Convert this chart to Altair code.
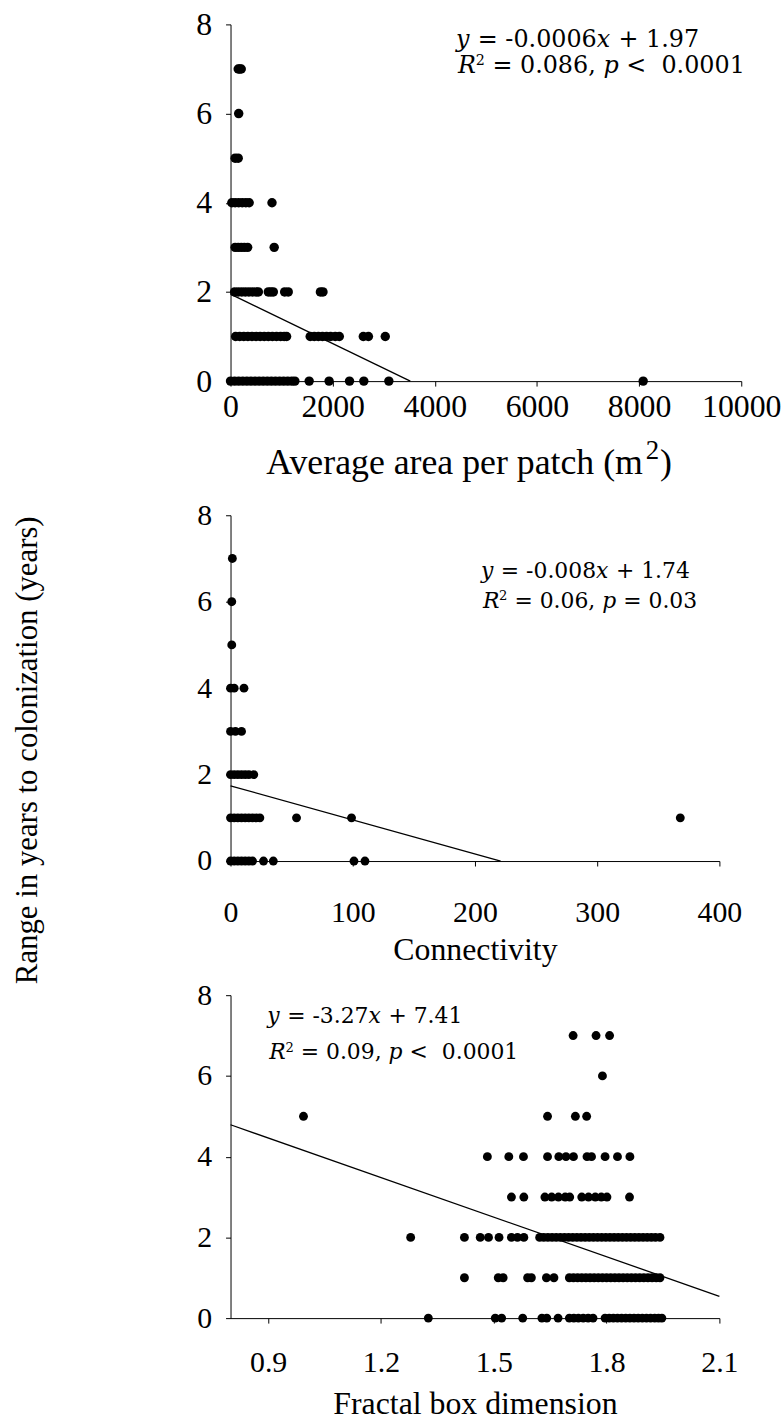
import altair as alt
import pandas as pd

# ---------------- Panel 1: average area per patch (m2) ----------------
area_y7 = [150, 180, 210]
area_y6 = [160]
area_y5 = [90, 150]
area_y4 = [25, 90, 160, 230, 300, 365, 812]
area_y3 = [90, 150, 210, 270, 335, 855]
area_y2 = [80, 150, 220, 290, 360, 430, 500, 545, 740, 790, 838, 1060, 1130, 1760, 1810]
area_y1 = [100, 180, 260, 340, 420, 500, 580, 660, 740, 820, 900, 980, 1050, 1098,
           1560, 1640, 1720, 1800, 1880, 1960, 2050, 2130, 2600, 2700, 3030]
area_y0 = [0, 80, 160, 240, 320, 400, 480, 560, 640, 720, 800, 880, 960, 1040, 1120,
           1200, 1260, 1540, 1930, 2330, 2610, 3100, 8080]
area_fit_x = [0, 3520]
area_fit_y = [1.95, 0]
area_ticks = [0, 2000, 4000, 6000, 8000, 10000]

# ---------------- Panel 2: connectivity ----------------
conn_y7 = [1.5]
conn_y6 = [1]
conn_y5 = [1]
conn_y4 = [0, 3, 11]
conn_y3 = [0, 4, 9]
conn_y2 = [0, 3, 6, 9, 12, 15, 19]
conn_y1 = [0, 3, 6, 9, 12, 15, 18, 21, 24, 54, 99, 368]
conn_y0 = [0, 3, 6, 9, 12, 15, 18, 27, 35, 101, 110]
conn_fit_x = [0, 221]
conn_fit_y = [1.74, 0]
conn_ticks = [0, 100, 200, 300, 400]

# ---------------- Panel 3: fractal box dimension ----------------
fbd_y7 = [1.711, 1.772, 1.808]
fbd_y6 = [1.789]
fbd_y5 = [0.994, 1.643, 1.717, 1.747]
fbd_y4 = [1.483, 1.540, 1.579, 1.643, 1.673, 1.692, 1.712, 1.748, 1.760, 1.796, 1.829, 1.862]
fbd_y3 = [1.547, 1.580, 1.636, 1.654, 1.672, 1.690, 1.702, 1.734, 1.752, 1.770, 1.786,
          1.801, 1.861]
fbd_y2 = [1.279, 1.422, 1.464, 1.486, 1.514, 1.547, 1.563, 1.580, 1.622, 1.633, 1.644,
          1.655, 1.666, 1.677, 1.688, 1.699, 1.710, 1.721, 1.732, 1.743, 1.754, 1.765,
          1.776, 1.787, 1.798, 1.809, 1.820, 1.831, 1.842, 1.853, 1.864, 1.875, 1.886,
          1.897, 1.908, 1.919, 1.930, 1.942]
fbd_y1 = [1.422, 1.512, 1.525, 1.590, 1.600, 1.640, 1.660, 1.701, 1.712, 1.723, 1.734,
          1.745, 1.756, 1.767, 1.778, 1.789, 1.800, 1.811, 1.822, 1.833, 1.844, 1.855,
          1.866, 1.877, 1.888, 1.899, 1.910, 1.921, 1.932, 1.942]
fbd_y0 = [1.326, 1.504, 1.521, 1.577, 1.628, 1.641, 1.671, 1.701, 1.713, 1.725, 1.738,
          1.751, 1.764, 1.796, 1.807, 1.818, 1.829, 1.840, 1.851, 1.862, 1.873, 1.884,
          1.895, 1.906, 1.917, 1.928, 1.938, 1.947]
fbd_fit_x = [0.8, 2.1]
fbd_fit_y = [4.79, 0.54]
fbd_ticks = [0.9, 1.2, 1.5, 1.8, 2.1]

y_ticks = [0, 2, 4, 6, 8]

# annotation text (segments: text, kind)
ann_area = [
    [("y", "it"), (" = -0.0006", "rg"), ("x", "it"), (" + 1.97", "rg")],
    [("R", "it"), ("2", "sup"), (" = 0.086, ", "rg"), ("p", "it"), (" <  0.0001", "rg")],
]
ann_conn = [
    [("y", "it"), (" = -0.008", "rg"), ("x", "it"), (" + 1.74", "rg")],
    [("R", "it"), ("2", "sup"), (" = 0.06, ", "rg"), ("p", "it"), (" = 0.03", "rg")],
]
ann_fbd = [
    [("y", "it"), (" = -3.27", "rg"), ("x", "it"), (" + 7.41", "rg")],
    [("R", "it"), ("2", "sup"), (" = 0.09, ", "rg"), ("p", "it"), (" <  0.0001", "rg")],
]
area_title_parts = ["Average area per patch (m", "2", ")"]

SERIF = "Liberation Serif"
ANN_FONT = "DejaVu Serif"


def rows_df(rows):
    recs = []
    for yv, xs in rows:
        for xv in xs:
            recs.append({"x": xv, "y": yv})
    return pd.DataFrame(recs)


REG_W = {" ": 0.318, ".": 0.318, ",": 0.318, "-": 0.338, "=": 0.838, "+": 0.838, "<": 0.838}
IT_W = {"y": 0.592, "x": 0.592, "p": 0.642, "R": 0.74}
TIMES_W = {"A": 0.722, "v": 0.5, "e": 0.444, "r": 0.333, "a": 0.444, "g": 0.5, " ": 0.25,
           "p": 0.5, "t": 0.278, "c": 0.444, "h": 0.5, "(": 0.333, "m": 0.778, "2": 0.5,
           ")": 0.333}


def char_w(ch, kind):
    if kind == "it":
        return IT_W.get(ch, 0.6)
    if ch.isdigit():
        return 0.636
    return REG_W.get(ch, 0.6)


ONE = pd.DataFrame({"a": [0]})


def text_mark(txt, x, y, size, style, font=ANN_FONT):
    return alt.Chart(ONE).mark_text(
        align="left", baseline="alphabetic", font=font, fontSize=size,
        fontStyle=style, color="black"
    ).encode(x=alt.value(x), y=alt.value(y), text=alt.value(txt))


def annotation(lines, x0s, baselines, fs):
    marks = []
    for segs, x0, y0 in zip(lines, x0s, baselines):
        x = x0
        for txt, kind in segs:
            size = round(fs * 0.6, 1) if kind == "sup" else fs
            style = "italic" if kind == "it" else "normal"
            dy = -0.33 * fs if kind == "sup" else 0
            run, run_x = "", x
            for ch in txt:
                w = char_w(ch, kind) * size
                if ch == " ":
                    if run:
                        marks.append(text_mark(run, run_x, y0 + dy, size, style))
                        run = ""
                    x += w
                else:
                    if not run:
                        run_x = x
                    run += ch
                    x += w
            if run:
                marks.append(text_mark(run, run_x, y0 + dy, size, style))
    return marks


def area_title(x0, y0, fs):
    main, sup, close = area_title_parts
    w_main = sum(TIMES_W.get(c, 0.5) for c in main) * fs
    sup_fs = round(fs * 0.75, 1)
    w_sup = TIMES_W["2"] * sup_fs
    return [
        text_mark(main, x0, y0, fs, "normal", SERIF),
        text_mark(sup, x0 + w_main, y0 - 0.4 * fs, sup_fs, "normal", SERIF),
        text_mark(close, x0 + w_main + w_sup + 1, y0, fs, "normal", SERIF),
    ]


def make_panel(df, fit_df, domain, ticks, fmt, w, h, xtitle, label_fs, title_fs,
               xlab_pad, title_y, extra, dot_size, ytitle=None):
    xs = alt.Scale(domain=domain, nice=False, zero=False)
    ys = alt.Scale(domain=[0, 8], nice=False)
    x_kw = dict(
        values=ticks, format=fmt, grid=False,
        domainColor="black", domainWidth=1, tickColor="black", tickSize=5, tickWidth=1,
        labelFont=SERIF, labelFontSize=label_fs, labelColor="black",
        labelPadding=xlab_pad, labelOverlap=False, labelFlush=False,
    )
    if xtitle is None:
        x_kw["title"] = None
    else:
        x_kw.update(dict(title=xtitle, titleFont=SERIF, titleFontSize=title_fs,
                         titleFontWeight="normal", titleColor="black", titleY=title_y,
                         titleBaseline="alphabetic"))
    y_kw = dict(
        values=y_ticks, format="d", grid=False,
        domainColor="black", domainWidth=1, tickColor="black", tickSize=5, tickWidth=1,
        labelFont=SERIF, labelFontSize=label_fs, labelColor="black", labelPadding=14,
        labelFlush=False, labelOverlap=False,
    )
    if ytitle is None:
        y_kw["title"] = None
    else:
        y_kw.update(ytitle)
    pts = alt.Chart(df).mark_circle(size=dot_size, color="black", opacity=1).encode(
        x=alt.X("x:Q", scale=xs, axis=alt.Axis(**x_kw)),
        y=alt.Y("y:Q", scale=ys, axis=alt.Axis(**y_kw)),
    )
    line = alt.Chart(fit_df).mark_line(color="black", strokeWidth=1.3).encode(
        x=alt.X("x:Q", scale=xs), y=alt.Y("y:Q", scale=ys)
    )
    return alt.layer(pts, line, *extra).properties(width=w, height=h)


df1 = rows_df([(7, area_y7), (6, area_y6), (5, area_y5), (4, area_y4), (3, area_y3),
               (2, area_y2), (1, area_y1), (0, area_y0)])
df2 = rows_df([(7, conn_y7), (6, conn_y6), (5, conn_y5), (4, conn_y4), (3, conn_y3),
               (2, conn_y2), (1, conn_y1), (0, conn_y0)])
df3 = rows_df([(7, fbd_y7), (6, fbd_y6), (5, fbd_y5), (4, fbd_y4), (3, fbd_y3),
               (2, fbd_y2), (1, fbd_y1), (0, fbd_y0)])
fit1 = pd.DataFrame({"x": area_fit_x, "y": area_fit_y})
fit2 = pd.DataFrame({"x": conn_fit_x, "y": conn_fit_y})
fit3 = pd.DataFrame({"x": fbd_fit_x, "y": fbd_fit_y})

H1, H2, H3 = 359, 348, 325

p1 = make_panel(df1, fit1, [0, 10000], area_ticks, "d", 514, H1,
                None, 32, 36, 6, 0,
                annotation(ann_area, [227, 229], [23, 49], 24)
                + area_title(36, H1 + 93, 36), 90)
p2 = make_panel(df2, fit2, [0, 400], conn_ticks, "d", 492, H2,
                "Connectivity", 30, 32, 32, 99,
                annotation(ann_conn, [252, 254], [63, 93], 22), 80,
                ytitle=dict(title="Range in years to colonization (years)",
                            titleFont=SERIF, titleFontSize=31, titleFontWeight="normal",
                            titleColor="black", titleAngle=270, titleX=-195, titleY=236,
                            titleBaseline="alphabetic", titleAlign="center"))
p3 = make_panel(df3, fit3, [0.8, 2.1], fbd_ticks, ".1f", 492, H3,
                "Fractal box dimension", 30, 32, 25, 96,
                annotation(ann_fbd, [37, 39], [28, 64], 22), 80)

chart = alt.vconcat(p1, p2, p3, spacing=135, bounds="flush").properties(
    padding={"left": 12, "top": 4, "right": 0, "bottom": 0}
).configure_view(strokeWidth=0)

chart.save("out.html", embed_options={"renderer": "svg", "actions": False})
